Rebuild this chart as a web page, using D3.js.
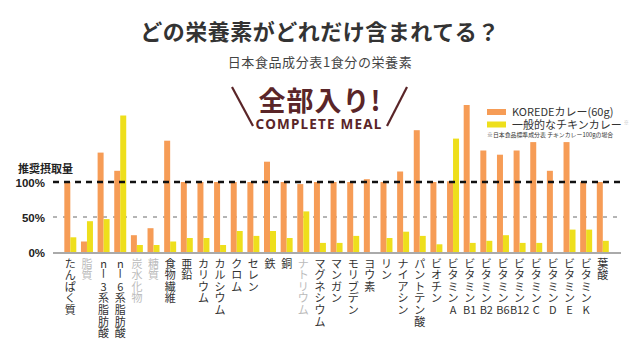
<!DOCTYPE html>
<html><head><meta charset="utf-8">
<script src="https://cdn.jsdelivr.net/npm/d3@7"></script>
<style>
html,body{margin:0;padding:0;background:#fff;}
svg{display:block;font-family:"Noto Sans CJK JP","Noto Sans",sans-serif;}
.vlab{writing-mode:vertical-rl;text-orientation:upright;}
</style></head>
<body>
<svg id="chart" width="640" height="356"></svg>
<script>
const categories = ["たんぱく質","脂質","nー3系脂肪酸","nー6系脂肪酸","炭水化物","糖質","食物繊維","亜鉛","カリウム","カルシウム","クロム","セレン","鉄","銅","ナトリウム","マグネシウム","マンガン","モリブデン","ヨウ素","リン","ナイアシン","パントテン酸","ビオチン","ビタミンA","ビタミンB1","ビタミンB2","ビタミンB6","ビタミンB12","ビタミンC","ビタミンD","ビタミンE","ビタミンK","葉酸"];
const koredeValues = [100,15,142,116,24,34,159,100,100,100,100,100,129,100,97,100,100,100,104,100,115,174,100,101,210,145,139,145,157,116,157,100,100];
const chickenValues = [21,44,47,195,10,10,15,20,20,10,30,23,30,20,58,13,13,23,0,20,29,23,11,162,13,16,24,13,13,0,32,32,16];
const mutedCategories = ["脂質","炭水化物","糖質","ナトリウム"];
const seriesNames = ["KOREDEカレー(60g)","一般的なチキンカレー"];
const yTickValues = [0,50,100];
const yTickLabels = ["0%","50%","100%"];

const ORANGE = "#F69C56", YELLOW = "#EEDF1C";
const svg = d3.select("#chart");

// Titles
svg.append("text").attr("x",320).attr("y",40).attr("text-anchor","middle")
  .attr("font-size",22).attr("font-weight",700).attr("fill","#333").attr("letter-spacing",0.5)
  .text("どの栄養素がどれだけ含まれてる？");
svg.append("text").attr("x",320).attr("y",67).attr("text-anchor","middle")
  .attr("font-size",13).attr("fill","#444").attr("letter-spacing",0.6)
  .text("日本食品成分表1食分の栄養素");
const BROWN = "#5A2528";
svg.append("text").attr("x",320).attr("y",111).attr("text-anchor","middle")
  .attr("font-size",27).attr("font-weight",700).attr("fill",BROWN).attr("letter-spacing",1)
  .text("全部入り!");
svg.append("text").attr("x",319).attr("y",128.5).attr("text-anchor","middle")
  .attr("font-family","'Noto Sans',sans-serif")
  .attr("font-size",13.5).attr("font-weight",700).attr("fill",BROWN).attr("letter-spacing",1.2)
  .text("COMPLETE MEAL");
svg.append("line").attr("x1",232).attr("y1",87).attr("x2",253).attr("y2",126)
  .attr("stroke",BROWN).attr("stroke-width",2.2);
svg.append("line").attr("x1",387).attr("y1",126).attr("x2",407).attr("y2",87)
  .attr("stroke",BROWN).attr("stroke-width",2.2);

// Scales
const x = d3.scaleBand().domain(categories).range([62, 62 + 16.64*33]).paddingInner(0.28).paddingOuter(0.14);
const xs = d3.scaleBand().domain(["korede","chicken"]).range([0, x.bandwidth()]);
const y = d3.scaleLinear().domain([0,100]).range([252,182]);

// Reference lines
svg.append("line").attr("x1",53).attr("x2",621).attr("y1",y(50)).attr("y2",y(50))
  .attr("stroke","#444").attr("stroke-width",0.8).attr("stroke-dasharray","4,6");

// Bars
const g = svg.append("g");
categories.forEach((c,i)=>{
  g.append("rect").attr("x",x(c)+xs("korede")).attr("width",xs.bandwidth())
    .attr("y",y(koredeValues[i])).attr("height",y(0)-y(koredeValues[i])).attr("fill",ORANGE);
  if (chickenValues[i] > 0)
    g.append("rect").attr("x",x(c)+xs("chicken")).attr("width",xs.bandwidth())
      .attr("y",y(chickenValues[i])).attr("height",y(0)-y(chickenValues[i])).attr("fill",YELLOW);
});

svg.append("line").attr("x1",53).attr("x2",621).attr("y1",y(100)).attr("y2",y(100))
  .attr("stroke","#111").attr("stroke-width",2.6).attr("stroke-dasharray","6,5");
svg.append("line").attr("x1",53).attr("x2",621).attr("y1",y(0)+1).attr("y2",y(0)+1)
  .attr("stroke","#aaa").attr("stroke-width",2);

// Y labels
yTickValues.forEach((v,i)=>{
  svg.append("text").attr("x",45).attr("y",y(v)+4.5).attr("text-anchor","end")
    .attr("font-family","'Liberation Sans',Arial,sans-serif")
    .attr("font-size",11.5).attr("font-weight",700).attr("fill","#222").text(yTickLabels[i]);
});
svg.append("text").attr("x",18).attr("y",173).attr("font-size",11).attr("font-weight",700)
  .attr("fill","#222").text("推奨摂取量");

// X labels: one glyph per line, stacked; "B12" style suffix kept horizontal
const STEP = 11.6, TOP = 262.5;
categories.forEach((c)=>{
  const cx = x(c) + x.bandwidth()/2;
  const tokens = c.match(/B\d+|./g);
  const col = mutedCategories.includes(c) ? "#bbb" : "#333";
  tokens.forEach((tk,j)=>{
    const cy = TOP + j*STEP;
    if (tk === "ー") {
      svg.append("text").attr("class","vlab").attr("x",cx).attr("y",cy-5.5)
        .attr("font-size",11).attr("fill",col).text(tk);
    } else {
      svg.append("text").attr("x",cx).attr("y",cy)
        .attr("text-anchor","middle").attr("dominant-baseline","central")
        .attr("font-size",11).attr("fill",col).text(tk);
    }
  });
});

// Legend
const lg = svg.append("g");
[ORANGE,YELLOW].forEach((col,i)=>{
  lg.append("rect").attr("x",487).attr("y",109+i*12.5).attr("width",19).attr("height",6).attr("fill",col);
  const t = lg.append("text").attr("x",512).attr("y",116+i*12.5)
    .attr("font-size",11).attr("fill","#333").text(seriesNames[i]);
  if (i === 1) t.append("tspan").attr("dx",2).attr("dy",-5).attr("font-size",5).attr("fill","#bbb").text("※");
});
lg.append("text").attr("x",487).attr("y",137).attr("font-size",5.9).attr("fill","#333")
  .text("※日本食品標準成分表 チキンカレー100gの場合");
</script>
</body></html>
